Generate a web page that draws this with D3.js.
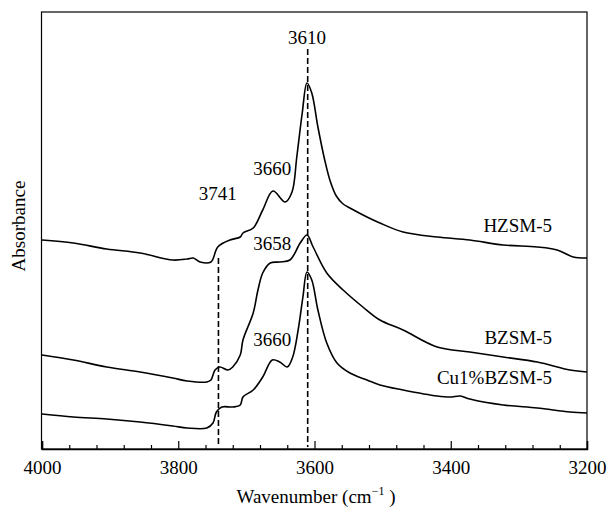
<!DOCTYPE html>
<html>
<head>
<meta charset="utf-8">
<script src="https://cdn.jsdelivr.net/npm/d3@7"></script>
<style>
  html, body { margin: 0; padding: 0; background: #fff; }
  svg { display: block; }
  text { font-family: "Liberation Serif", "Times New Roman", serif; fill: #000; }
</style>
</head>
<body>
<svg id="chart" width="608" height="510"></svg>
<script>
// ---- Data (wavenumber cm^-1, absorbance in arbitrary units) ----
const hzsm5 = [
  [4000,2.09],[3954,2.06],[3905,2.00],[3856,1.96],[3808,1.89],[3787,1.90],[3778,1.91],
  [3768,1.87],[3752,1.87],[3742,2.02],[3724,2.09],[3709,2.12],[3705,2.16],[3690,2.21],
  [3676,2.39],[3661,2.58],[3643,2.47],[3633,2.57],[3626,2.92],[3618,3.36],[3611,3.66],
  [3604,3.56],[3595,3.22],[3585,2.89],[3577,2.68],[3568,2.53],[3558,2.45],[3548,2.41],
  [3523,2.32],[3504,2.26],[3470,2.17],[3420,2.12],[3372,2.09],[3323,2.04],[3273,2.02],
  [3244,1.99],[3220,1.92],[3200,1.91]
];
const bzsm5 = [
  [4000,0.94],[3954,0.89],[3905,0.82],[3856,0.77],[3808,0.71],[3787,0.68],[3758,0.67],
  [3752,0.69],[3746,0.79],[3739,0.82],[3727,0.79],[3720,0.82],[3709,0.94],[3705,1.09],
  [3690,1.36],[3683,1.59],[3676,1.76],[3665,1.86],[3651,1.87],[3636,1.89],[3621,2.06],
  [3611,2.14],[3602,2.02],[3582,1.76],[3558,1.59],[3529,1.42],[3504,1.29],[3470,1.19],
  [3420,1.02],[3372,0.97],[3323,0.92],[3273,0.87],[3225,0.79],[3200,0.77]
];
const cuBzsm5 = [
  [4000,0.35],[3954,0.32],[3905,0.30],[3856,0.27],[3808,0.23],[3787,0.21],[3758,0.21],
  [3749,0.26],[3744,0.37],[3736,0.42],[3720,0.42],[3709,0.44],[3705,0.52],[3690,0.59],
  [3676,0.72],[3662,0.89],[3651,0.87],[3640,0.82],[3632,0.92],[3624,1.19],[3617,1.52],
  [3611,1.77],[3604,1.69],[3595,1.39],[3582,1.06],[3567,0.86],[3548,0.76],[3523,0.69],
  [3504,0.64],[3470,0.59],[3420,0.53],[3401,0.52],[3386,0.53],[3372,0.50],[3323,0.44],
  [3273,0.41],[3225,0.37],[3200,0.36]
];
const seriesNames = ["HZSM-5", "BZSM-5", "Cu1%BZSM-5"];
const majorTicks = [4000, 3800, 3600, 3400, 3200];
const minorTicks = [3960,3920,3880,3840,3760,3720,3680,3640,3560,3520,3480,3440,3360,3320,3280,3240];
const markerLines = [
  {w: 3741, y0: 1.91, y1: 0.02},
  {w: 3610, y0: 4.0,  y1: 0.02}
];
const peakLabels = [
  {text: "3610", w: 3611, a: 4.05},
  {text: "3660", w: 3662, a: 2.74},
  {text: "3741", w: 3742, a: 2.49},
  {text: "3658", w: 3662, a: 1.99},
  {text: "3660", w: 3662, a: 1.03}
];
const seriesLabels = [
  {text: "HZSM-5", w: 3273, a: 2.17},
  {text: "BZSM-5", w: 3273, a: 1.05},
  {text: "Cu1%BZSM-5", w: 3273, a: 0.65}
];

// ---- Layout ----
const svg = d3.select("#chart");
const L = 42, R = 587, T = 12, B = 449;
const x = d3.scaleLinear().domain([4000, 3200]).range([L, R]);
const y = d3.scaleLinear().domain([0, 4.37]).range([B, T]);

// frame
svg.append("rect").attr("x", L - 0.5).attr("y", T).attr("width", R - L + 0.5).attr("height", B - T)
  .attr("fill", "none").attr("stroke", "#000").attr("stroke-width", 1.2);

// axes
const axMajor = d3.axisBottom(x).tickValues(majorTicks).tickSize(-8).tickPadding(12).tickFormat(d3.format("d"));
const gMaj = svg.append("g").attr("transform", `translate(0,${B})`).call(axMajor);
gMaj.select(".domain").attr("stroke-width", 1.5);
gMaj.selectAll(".tick line").attr("stroke-width", 1.2);
gMaj.selectAll("text").attr("font-size", 19).attr("font-family", "Liberation Serif, Times New Roman, serif");

const axMinor = d3.axisBottom(x).tickValues(minorTicks).tickSize(-4).tickFormat("");
const gMin = svg.append("g").attr("transform", `translate(0,${B})`).call(axMinor);
gMin.select(".domain").remove();
gMin.selectAll(".tick line").attr("stroke-width", 1.2);

// axis titles
const xt = svg.append("text").attr("x", 316).attr("y", 503).attr("text-anchor", "middle").attr("font-size", 19);
xt.append("tspan").text("Wavenumber (cm");
xt.append("tspan").attr("font-size", 12).attr("dy", -8).text("−1");
xt.append("tspan").attr("dy", 8).text(" )");

svg.append("text").attr("transform", "translate(25,226) rotate(-90)")
  .attr("text-anchor", "middle").attr("font-size", 19).text("Absorbance");

// dashed marker lines
svg.selectAll(".mk").data(markerLines).enter().append("line")
  .attr("x1", d => x(d.w)).attr("x2", d => x(d.w))
  .attr("y1", d => y(d.y0)).attr("y2", d => y(d.y1))
  .attr("stroke", "#000").attr("stroke-width", 1.6).attr("stroke-dasharray", "6,3");

// curves
const line = d3.line().x(d => x(d[0])).y(d => y(d[1])).curve(d3.curveCatmullRom.alpha(0.5));
[hzsm5, bzsm5, cuBzsm5].forEach((s, i) => {
  svg.append("path").datum(s).attr("class", "series s" + i).attr("d", line)
    .attr("fill", "none").attr("stroke", "#000").attr("stroke-width", 1.6).attr("stroke-linejoin", "round");
});

// peak labels
svg.selectAll(".pk").data(peakLabels).enter().append("text")
  .attr("x", d => x(d.w)).attr("y", d => y(d.a)).attr("text-anchor", "middle")
  .attr("font-size", 19).text(d => d.text);

// series labels
svg.selectAll(".sl").data(seriesLabels).enter().append("text")
  .attr("x", 552).attr("y", d => y(d.a)).attr("text-anchor", "end")
  .attr("font-size", 19).text(d => d.text);
</script>
</body>
</html>
